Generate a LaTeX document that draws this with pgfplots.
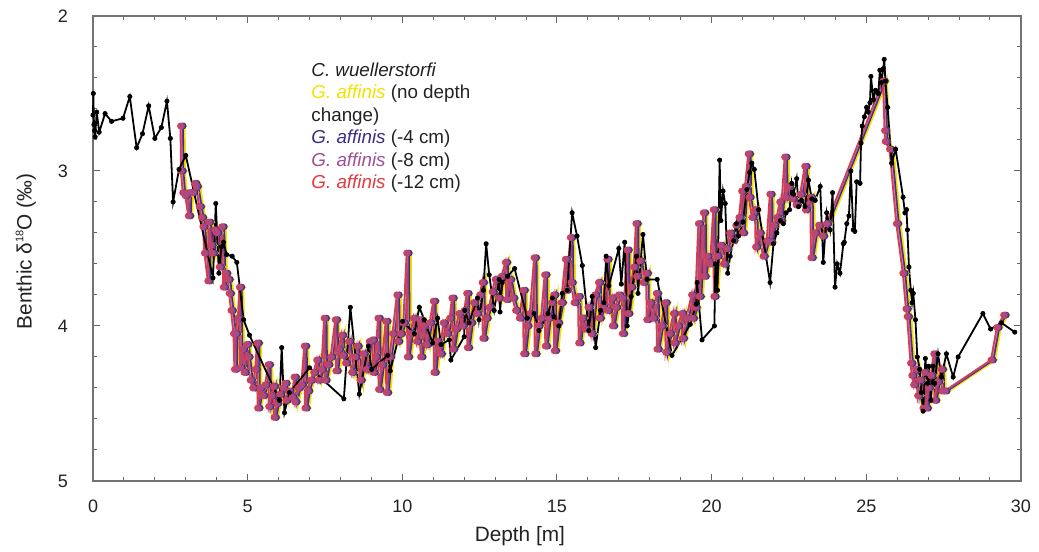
\documentclass[border=0pt]{standalone}
\usepackage{pgfplots}
\usepackage{pgfplotstable}
\pgfplotsset{compat=1.18}
\usepackage{fontspec}
\setmainfont{Liberation Sans}
\definecolor{gy}{HTML}{F5E100}
\definecolor{gb}{HTML}{3E2C86}
\definecolor{gp}{HTML}{A04E96}
\definecolor{gr}{HTML}{E23A3E}
\definecolor{txt}{HTML}{222222}

\pgfplotstableread{
x y
0.00 2.64
0.01 2.50
0.03 2.70
0.05 2.74
0.07 2.78
0.12 2.62
0.20 2.75
0.39 2.63
0.60 2.68
0.97 2.66
1.19 2.52
1.41 2.85
1.60 2.76
1.80 2.58
2.00 2.79
2.21 2.72
2.39 2.55
2.50 2.79
2.59 3.20
2.78 2.99
3.00 2.90
3.88 3.69
3.97 3.21
4.07 3.66
4.15 3.49
4.22 3.46
4.32 3.54
4.50 3.55
4.65 3.59
4.87 3.96
5.06 4.06
6.03 4.48
6.10 4.14
6.19 4.56
6.35 4.43
7.00 4.27
8.11 4.47
8.32 3.88
8.61 4.44
8.90 4.13
9.01 4.28
9.53 4.19
9.61 4.29
10.01 3.97
10.39 4.05
10.55 3.88
10.71 3.96
10.98 4.11
11.14 3.95
11.25 4.12
11.52 4.09
11.57 4.22
12.00 4.07
12.02 3.90
12.16 3.98
12.43 3.82
12.48 3.96
12.62 3.77
12.71 3.47
12.81 3.67
12.97 3.90
13.13 3.70
13.16 3.91
13.23 3.72
13.40 3.68
13.63 3.63
14.04 3.95
14.26 3.92
14.42 4.03
14.71 3.92
14.85 3.82
14.90 3.94
15.06 4.00
15.17 3.79
15.33 3.77
15.49 3.27
15.65 3.42
15.82 3.61
16.03 4.03
16.14 3.81
16.25 4.14
16.41 3.90
16.52 3.85
16.59 3.55
16.68 3.74
17.00 3.50
17.08 3.73
17.19 3.46
17.27 4.00
17.40 3.81
17.57 3.55
17.62 3.79
17.78 3.41
17.91 3.70
18.24 3.70
18.72 4.19
19.31 3.99
19.50 3.86
19.53 3.72
19.69 4.09
20.09 4.00
20.12 3.60
20.19 3.77
20.26 2.93
20.30 3.32
20.37 3.13
20.44 3.21
20.52 3.66
20.60 3.55
20.71 3.45
20.80 3.34
20.87 3.42
21.01 3.33
21.14 3.12
21.23 3.01
21.30 2.95
21.38 2.99
21.52 3.25
21.89 3.72
22.00 3.47
22.11 3.40
22.22 3.32
22.32 3.34
22.41 3.27
22.52 3.25
22.59 3.08
22.65 3.15
22.75 3.05
22.81 3.23
22.91 3.19
23.02 3.23
23.13 3.06
23.24 3.18
23.35 3.19
23.51 3.10
23.61 3.59
23.72 3.27
23.83 3.38
23.91 3.14
23.99 3.75
24.06 3.60
24.15 3.66
24.26 3.47
24.29 3.46
24.37 3.34
24.44 3.29
24.50 3.00
24.58 3.38
24.63 3.39
24.69 3.07
24.80 3.08
24.83 2.82
24.87 2.71
24.94 2.65
25.01 2.59
25.06 2.62
25.12 2.56
25.15 2.39
25.23 2.54
25.30 2.48
25.39 2.50
25.44 2.35
25.49 2.43
25.55 2.34
25.58 2.28
25.62 2.42
25.69 2.59
25.82 2.95
25.95 2.86
26.19 3.17
26.25 3.27
26.30 3.25
26.33 3.38
26.38 3.62
26.44 3.77
26.48 3.85
26.52 3.79
26.59 3.96
26.65 4.20
26.73 4.28
26.78 4.43
26.84 4.55
26.91 4.21
26.98 4.37
27.02 4.26
27.09 4.48
27.16 4.26
27.21 4.37
27.32 4.18
27.43 4.33
27.59 4.18
27.81 4.33
27.97 4.20
28.77 3.92
29.02 4.02
29.37 3.98
29.80 4.04
}\cwu

\pgfplotstableread{
x y
2.95 2.71
2.96 3.00
3.02 3.14
3.10 3.16
3.20 3.29
3.22 3.14
3.34 3.14
3.40 3.08
3.45 3.10
3.55 3.23
3.62 3.30
3.67 3.36
3.72 3.53
3.83 3.71
3.85 3.33
3.93 3.48
3.97 3.53
4.05 3.38
4.12 3.40
4.20 3.62
4.28 3.36
4.33 3.75
4.40 3.66
4.48 3.70
4.52 3.79
4.58 3.90
4.66 4.05
4.69 4.28
4.72 4.05
4.80 3.95
4.85 3.75
4.87 4.27
4.95 4.15
5.00 4.30
5.08 4.12
5.12 4.20
5.20 4.35
5.28 4.40
5.36 4.28
5.42 4.11
5.44 4.53
5.52 4.40
5.60 4.45
5.68 4.38
5.78 4.25
5.80 4.52
5.88 4.45
5.95 4.39
5.97 4.59
6.05 4.50
6.15 4.44
6.25 4.40
6.32 4.37
6.35 4.48
6.45 4.42
6.55 4.46
6.62 4.33
6.64 4.49
6.75 4.40
6.85 4.38
6.95 4.13
6.97 4.53
7.05 4.42
7.15 4.35
7.25 4.30
7.35 4.22
7.40 4.35
7.50 4.28
7.59 3.95
7.61 4.35
7.70 4.25
7.80 4.20
7.95 3.96
7.97 4.29
8.05 4.15
8.15 4.06
8.18 4.19
8.28 4.24
8.38 4.10
8.48 4.30
8.58 4.20
8.65 4.13
8.75 4.35
8.85 4.18
8.95 4.28
9.05 4.10
9.15 4.09
9.17 4.30
9.25 4.20
9.33 3.95
9.35 4.41
9.45 4.25
9.58 3.97
9.60 4.43
9.70 4.20
9.80 4.05
9.94 3.80
9.96 4.10
10.05 4.05
10.15 3.98
10.26 3.53
10.28 4.20
10.38 4.05
10.48 3.95
10.58 4.10
10.68 3.96
10.71 4.20
10.80 4.00
10.90 4.12
11.00 3.98
11.12 3.84
11.14 4.30
11.24 4.10
11.34 4.18
11.44 3.98
11.55 4.05
11.65 3.95
11.72 3.82
11.74 4.15
11.84 4.02
11.95 3.92
12.05 4.00
12.12 3.90
12.20 3.79
12.22 4.14
12.32 3.98
12.42 3.85
12.52 3.92
12.62 3.80
12.70 3.72
12.72 4.08
12.82 3.95
12.92 3.88
13.02 3.78
13.12 3.70
13.22 3.82
13.32 3.68
13.45 3.59
13.48 3.83
13.58 3.70
13.68 3.82
13.78 3.90
13.90 3.95
14.02 3.77
14.04 4.18
14.14 4.00
14.24 3.92
14.38 3.56
14.40 4.18
14.50 4.00
14.60 3.95
14.72 3.67
14.74 4.13
14.84 3.95
14.94 3.85
15.01 3.80
15.03 4.16
15.13 3.98
15.25 3.85
15.39 3.57
15.41 3.77
15.55 3.43
15.57 3.72
15.67 3.85
15.80 3.81
15.82 4.11
15.92 3.95
16.02 4.02
16.12 3.88
16.22 4.05
16.34 3.80
16.46 3.72
16.48 3.95
16.60 3.88
16.73 3.57
16.75 3.90
16.89 3.82
16.91 4.00
17.01 3.88
17.11 3.80
17.21 3.82
17.23 4.05
17.38 3.51
17.40 3.92
17.50 3.75
17.60 3.62
17.67 3.34
17.69 3.68
17.79 3.58
17.90 3.72
18.00 3.66
18.02 3.96
18.12 3.85
18.22 3.95
18.33 3.79
18.35 4.15
18.48 4.00
18.61 3.85
18.63 4.17
18.75 4.05
18.88 3.92
18.90 4.11
19.02 4.00
19.15 3.92
19.17 4.08
19.30 3.95
19.47 3.80
19.49 3.95
19.58 3.88
19.69 3.34
19.71 3.81
19.85 3.27
19.87 3.68
19.97 3.55
20.07 3.60
20.17 3.25
20.19 3.81
20.29 3.55
20.40 3.48
20.50 3.60
20.60 3.50
20.70 3.40
20.80 3.45
20.90 3.35
21.00 3.30
21.09 3.13
21.11 3.40
21.20 3.10
21.30 2.89
21.32 3.17
21.42 3.30
21.52 3.25
21.54 3.49
21.65 3.40
21.78 3.55
21.90 3.45
22.00 3.15
22.02 3.46
22.12 3.35
22.22 3.30
22.32 3.20
22.34 3.32
22.48 2.91
22.50 3.17
22.60 3.10
22.72 3.18
22.85 3.22
22.98 3.15
23.13 2.97
23.15 3.25
23.31 3.17
23.33 3.56
23.45 3.40
23.58 3.35
23.70 3.42
23.83 3.34
25.66 2.42
25.71 2.74
25.73 2.81
25.87 2.86
26.09 3.34
26.30 3.66
26.40 3.89
26.44 3.94
26.55 4.24
26.59 4.32
26.65 4.38
26.72 4.28
26.78 4.45
26.85 4.35
26.95 4.53
27.00 4.30
27.05 4.53
27.12 4.40
27.20 4.32
27.30 4.18
27.32 4.48
27.42 4.36
27.54 4.28
27.56 4.42
27.65 4.42
29.15 4.22
29.34 4.01
29.56 3.93
}\gaff

\begin{document}
\begin{tikzpicture}
\begin{axis}[
  scale only axis, width=464pt, height=232.5pt,
  xmin=0, xmax=30, ymin=2, ymax=5, y dir=reverse,
  xtick={0,5,...,30}, ytick={2,3,4,5},
  minor x tick num=4, minor y tick num=4,
  tick align=inside, major tick length=3.5pt, minor tick length=2pt,
  axis line style={black!55, line width=0.6pt},
  tick style={black!60, line width=0.5pt},
  ticklabel style={font=\fontsize{9}{10}\selectfont, text=txt},
  /pgf/number format/assume math mode=true,
  xticklabel style={yshift=-6pt},
  yticklabel style={xshift=-9pt},
  clip=false,
]
\addplot[gy, line width=1.4pt, mark=*, mark size=0.7pt, mark options={fill=gy, draw=gy}] table[x=x, y=y] {\gaff};
\addplot[gb, line width=0.9pt, mark=*, mark size=1.25pt, mark options={fill=gb, draw=gb}] table[x expr=\thisrow{x}-0.04, y=y] {\gaff};
\addplot[gr, line width=0.9pt, mark=*, mark size=1.25pt, mark options={fill=gr, draw=gr}] table[x expr=\thisrow{x}-0.12, y=y] {\gaff};
\addplot[gp, line width=0.9pt, opacity=0.6, mark=*, mark size=1.25pt, mark options={fill=gp, draw=gp}] table[x expr=\thisrow{x}-0.08, y=y] {\gaff};
\addplot[black, line width=0.9pt, mark=*, mark size=1.1pt, mark options={fill=black, draw=black, line width=0.3pt}] table[x=x, y=y] {\cwu};

\node[anchor=north west, align=left, inner sep=0pt, text=txt,
      font=\fontsize{9.4}{11.2}\selectfont] at (axis cs:7.05,2.30)
  {\textit{C. wuellerstorfi}\\
   {\color{gy}\textit{G. affinis}} (no depth\\
   change)\\
   {\color{gb}\textit{G. affinis}} (-4 cm)\\
   {\color{gp}\textit{G. affinis}} (-8 cm)\\
   {\color{gr}\textit{G. affinis}} (-12 cm)};

\node[font=\fontsize{10.4}{12}\selectfont, text=txt] at (axis cs:13.8,5.355) {Depth [m]};
\node[font=\fontsize{10.4}{12}\selectfont, text=txt, rotate=90] at (axis cs:-2.17,3.52) {Benthic δ\raisebox{0.75ex}{\fontsize{5.5}{6}\selectfont 18}O (‰)};

\coordinate (BL) at (axis cs:-3.007,5.458);
\coordinate (TR) at (axis cs:30.585,1.897);
\end{axis}
\pgfresetboundingbox
\useasboundingbox (BL) rectangle (TR);
\end{tikzpicture}
\end{document}
